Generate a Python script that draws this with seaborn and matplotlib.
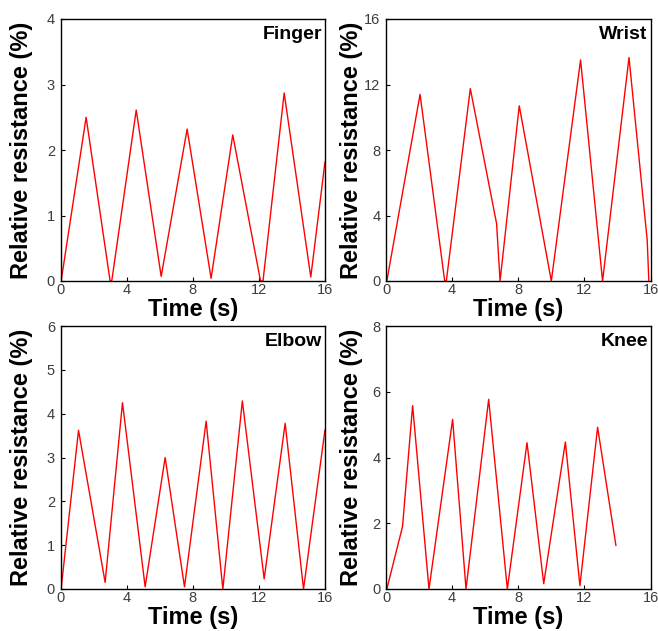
import matplotlib
matplotlib.use("Agg")
import matplotlib.pyplot as plt
import seaborn as sns
import pandas as pd

# values, time in s, relative resistance in %
finger_t = [0.05, 1.55, 3.0, 3.1, 4.58, 6.09, 7.66, 9.11, 10.42, 12.1, 12.25, 13.53, 15.14, 16.0]
finger_v = [0.02, 2.50, 0.0, 0.0, 2.61, 0.07, 2.32, 0.04, 2.23, 0.0, 0.0, 2.87, 0.06, 1.82]

wrist_t = [0.05, 2.06, 3.55, 3.65, 5.1, 6.69, 6.9, 8.06, 10.0, 11.77, 13.1, 14.7, 15.8, 15.9]
wrist_v = [0.0, 11.4, 0.0, 0.0, 11.75, 3.5, 0.0, 10.7, 0.0, 13.5, 0.0, 13.65, 2.5, 0.0]

elbow_t = [0.05, 1.09, 2.7, 3.75, 5.12, 6.33, 7.5, 8.81, 9.82, 11.0, 12.32, 13.59, 14.7, 16.0]
elbow_v = [0.05, 3.62, 0.15, 4.25, 0.05, 3.0, 0.05, 3.83, 0.0, 4.29, 0.23, 3.78, 0.0, 3.63]

knee_t = [0.05, 1.0, 1.61, 2.6, 4.03, 4.84, 6.21, 7.34, 8.53, 9.54, 10.85, 11.73, 12.8, 13.91]
knee_v = [0.0, 1.9, 5.58, 0.0, 5.16, 0.0, 5.77, 0.0, 4.45, 0.16, 4.47, 0.1, 4.92, 1.32]

panels = [
    ("Finger", finger_t, finger_v, 4, [0, 1, 2, 3, 4]),
    ("Wrist", wrist_t, wrist_v, 16, [0, 4, 8, 12, 16]),
    ("Elbow", elbow_t, elbow_v, 6, [0, 1, 2, 3, 4, 5, 6]),
    ("Knee", knee_t, knee_v, 8, [0, 2, 4, 6, 8]),
]
ylabel_x = [-0.104, -0.087, -0.104, -0.087]

sns.set_style("ticks")
plt.rcParams["font.family"] = ["Liberation Sans", "DejaVu Sans"]

fig = plt.figure(figsize=(6.58, 6.31), dpi=100)
W, H = 658, 631
boxes = [(60.5, 19, 325, 281), (386, 19, 650.5, 281),
         (60.5, 326, 325, 589), (386, 326, 650.5, 589)]

for i, (name, t, v, ymax, yt) in enumerate(panels):
    x0, y0, x1, y1 = boxes[i]
    ax = fig.add_axes([x0 / W, 1 - y1 / H, (x1 - x0) / W, (y1 - y0) / H])
    df = pd.DataFrame({"t": t, "v": v})
    sns.lineplot(data=df, x="t", y="v", ax=ax, color="red", lw=1.0,
                 sort=False, estimator=None)
    ax.set_xlim(0, 16)
    ax.set_ylim(0, ymax)
    ax.set_xticks([0, 4, 8, 12, 16])
    ax.set_yticks(yt)
    ax.tick_params(direction="in", length=3, width=0.8, labelsize=10.5,
                   labelcolor="#3c3c3c", color="black")
    ax.tick_params(axis="x", pad=1.5)
    ax.tick_params(axis="y", pad=4)
    for s in ax.spines.values():
        s.set_visible(True)
        s.set_linewidth(1.0)
        s.set_color("black")
    ax.set_xlabel("Time (s)", fontsize=17, fontweight="bold", labelpad=0.5,
                  color="black")
    ax.set_ylabel("Relative resistance (%)", fontsize=17, fontweight="bold",
                  color="black")
    ax.yaxis.set_label_coords(ylabel_x[i], 0.5)
    ax.text(0.99, 0.975, name, transform=ax.transAxes, ha="right", va="top",
            fontsize=14, fontweight="bold", color="black")

fig.savefig("out.png", dpi=100)
